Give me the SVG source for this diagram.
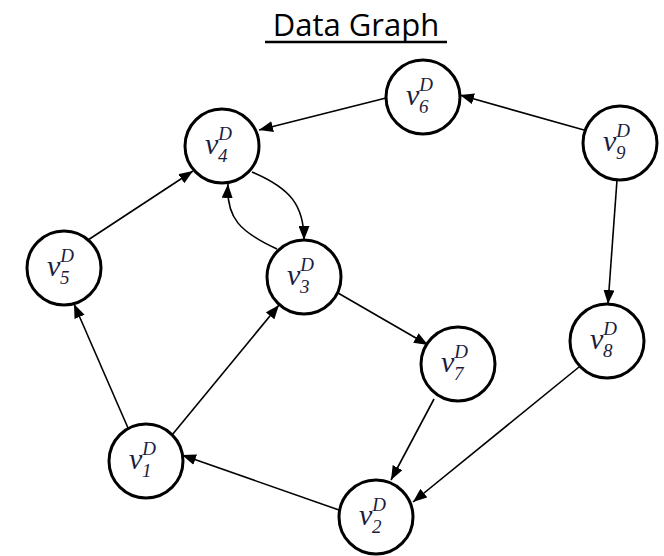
<svg xmlns="http://www.w3.org/2000/svg" width="664" height="556" viewBox="0 0 664 556">
<defs>
<marker id="ah" markerWidth="14" markerHeight="11" refX="14" refY="5.5" orient="auto" markerUnits="userSpaceOnUse">
<path d="M0,0 L14,5.5 L0,11 Z" fill="#000"/>
</marker>
<style>
.n circle{fill:#fff;stroke:#000;stroke-width:3}
.n text{font-family:"Liberation Serif",serif;font-style:italic;fill:#1c1c3c}
.v{font-size:30px}
.s{font-size:19px}
.e{stroke:#000;stroke-width:1.6;fill:none;marker-end:url(#ah)}
.t{font-family:"Open Sans","Liberation Sans",sans-serif;font-size:31px;fill:#000}
</style>
</defs>
<rect width="664" height="556" fill="#fff"/>
<text class="t" x="356" y="36" text-anchor="middle">Data Graph</text>
<line x1="265" y1="42" x2="447" y2="42" stroke="#000" stroke-width="2.5"/>
<g id="connectors">
<line class="e" x1="386" y1="98" x2="259" y2="130"/>
<line class="e" x1="584" y1="130" x2="460" y2="95"/>
<line class="e" x1="617" y1="180" x2="608" y2="304"/>
<line class="e" x1="579" y1="367" x2="413" y2="502"/>
<line class="e" x1="434" y1="399" x2="391" y2="480"/>
<line class="e" x1="339" y1="510" x2="182" y2="455"/>
<line class="e" x1="128" y1="428" x2="74" y2="304"/>
<line class="e" x1="172" y1="435" x2="279" y2="305"/>
<line class="e" x1="88" y1="240" x2="193" y2="171"/>
<line class="e" x1="338" y1="293" x2="428" y2="345"/>
<path class="e" d="M252,172 C290,188 304,205 304,240"/>
<path class="e" d="M277,249 C240,232 226,218 228,184"/>
</g>
<g id="v6" class="n"><circle cx="423" cy="97" r="37"/><text x="406" y="105"><tspan class="v">v</tspan><tspan class="s" dy="-14">D</tspan><tspan class="s" dx="-14" dy="22">6</tspan></text></g>
<g id="v4" class="n"><circle cx="222" cy="146" r="37"/><text x="205" y="154"><tspan class="v">v</tspan><tspan class="s" dy="-14">D</tspan><tspan class="s" dx="-14" dy="22">4</tspan></text></g>
<g id="v9" class="n"><circle cx="620" cy="143" r="37"/><text x="603" y="151"><tspan class="v">v</tspan><tspan class="s" dy="-14">D</tspan><tspan class="s" dx="-14" dy="22">9</tspan></text></g>
<g id="v5" class="n"><circle cx="64" cy="268" r="37"/><text x="47" y="276"><tspan class="v">v</tspan><tspan class="s" dy="-14">D</tspan><tspan class="s" dx="-14" dy="22">5</tspan></text></g>
<g id="v3" class="n"><circle cx="304" cy="277" r="37"/><text x="287" y="285"><tspan class="v">v</tspan><tspan class="s" dy="-14">D</tspan><tspan class="s" dx="-14" dy="22">3</tspan></text></g>
<g id="v8" class="n"><circle cx="607" cy="341" r="37"/><text x="590" y="349"><tspan class="v">v</tspan><tspan class="s" dy="-14">D</tspan><tspan class="s" dx="-14" dy="22">8</tspan></text></g>
<g id="v7" class="n"><circle cx="458" cy="364" r="37"/><text x="441" y="372"><tspan class="v">v</tspan><tspan class="s" dy="-14">D</tspan><tspan class="s" dx="-14" dy="22">7</tspan></text></g>
<g id="v1" class="n"><circle cx="146" cy="461" r="37"/><text x="129" y="469"><tspan class="v">v</tspan><tspan class="s" dy="-14">D</tspan><tspan class="s" dx="-14" dy="22">1</tspan></text></g>
<g id="v2" class="n"><circle cx="376" cy="517" r="37"/><text x="359" y="525"><tspan class="v">v</tspan><tspan class="s" dy="-14">D</tspan><tspan class="s" dx="-14" dy="22">2</tspan></text></g>
</svg>
